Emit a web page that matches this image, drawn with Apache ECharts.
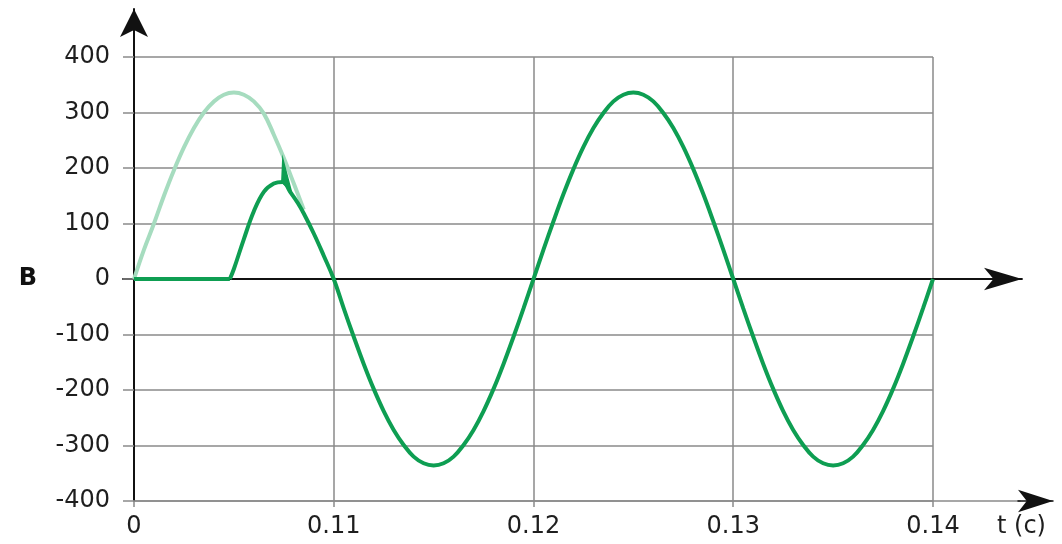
<!DOCTYPE html>
<html><head><meta charset="utf-8">
<script src="https://cdn.jsdelivr.net/npm/echarts@6/dist/echarts.min.js"></script>
<style>html,body{margin:0;padding:0;background:#fff}#c{width:1062px;height:544px}</style>
</head><body><div id="c"></div>
<script>
// ---- data ----
const xTicks = [0.10, 0.11, 0.12, 0.13, 0.14];
const xTickLabels = ['0', '0.11', '0.12', '0.13', '0.14'];
const yTickLabels = ['-400', '-300', '-200', '-100', '0', '100', '200', '300', '400'];

// light (undisturbed) curve
const lightT = [0.1000, 0.1005, 0.1010, 0.1015, 0.1020, 0.1025, 0.1030, 0.1035, 0.1040, 0.1045,
                0.1050, 0.1055, 0.1060, 0.1065, 0.1070, 0.1075, 0.1080, 0.1085];
const lightV = [0, 53, 100, 150, 196, 237, 272, 300, 320, 332,
                336, 332, 320, 298, 260, 218, 172, 125];

// dark curve
const darkT = [0.1000, 0.1048, 0.1050, 0.1055, 0.1060, 0.1065, 0.1070, 0.10745, 0.1078, 0.1082, 0.1085, 0.1090, 0.1095,
  0.1100, 0.1105, 0.1110, 0.1115, 0.1120, 0.1125, 0.1130, 0.1135, 0.1140, 0.1145,
  0.1150, 0.1155, 0.1160, 0.1165, 0.1170, 0.1175, 0.1180, 0.1185, 0.1190, 0.1195,
  0.1200, 0.1205, 0.1210, 0.1215, 0.1220, 0.1225, 0.1230, 0.1235, 0.1240, 0.1245,
  0.1250, 0.1255, 0.1260, 0.1265, 0.1270, 0.1275, 0.1280, 0.1285, 0.1290, 0.1295,
  0.1300, 0.1305, 0.1310, 0.1315, 0.1320, 0.1325, 0.1330, 0.1335, 0.1340, 0.1345,
  0.1350, 0.1355, 0.1360, 0.1365, 0.1370, 0.1375, 0.1380, 0.1385, 0.1390, 0.1395,
  0.1400];
const darkV = [0, 0, 18, 72, 122, 157, 172, 175, 158, 137, 118, 82, 42,
  0, -53, -104, -153, -198, -238, -272, -299, -320, -332,
  -336, -332, -320, -299, -272, -238, -198, -153, -104, -53,
  0, 53, 104, 153, 198, 238, 272, 299, 320, 332,
  336, 332, 320, 299, 272, 238, 198, 153, 104, 53,
  0, -53, -104, -153, -198, -238, -272, -299, -320, -332,
  -336, -332, -320, -299, -272, -238, -198, -153, -104, -53,
  0];

// small switching spike on the dark curve
const spikeT = [0.10740, 0.10745, 0.10792, 0.10770];
const spikeV = [174, 216, 152, 165];

// ---- chart ----
const zip = (a, b) => a.map((v, i) => [v, b[i]]);
const DARK = '#0e9e52', LIGHT = '#a6dcbf', GRID = '#8a8a8a';
const FONT = 'DejaVu Sans';
const FS = 24;

const chart = echarts.init(document.getElementById('c'), null, {renderer: 'canvas'});
const hiddenAxis = (gi, min, max) => ({type: 'value', gridIndex: gi, min, max, show: false});

chart.setOption({
  animation: false,
  backgroundColor: '#ffffff',
  title: {
    text: 't (c)', left: 997, top: 515, padding: 0,
    textStyle: {fontFamily: FONT, fontSize: FS, fontWeight: 'normal', color: '#1e1e1e'}
  },
  grid: [
    {left: 134, right: 129, top: 57, bottom: 43},   // main plot
    {left: 123, right: 40, top: 57, bottom: 43},    // zero line with arrow
    {left: 134, right: 42, top: 57, bottom: 43},    // bottom line extension
    {left: 1018, right: 9, top: 57, bottom: 43},    // bottom arrow head
    {left: 134, right: 129, top: 9, bottom: 43}     // vertical axis with arrow
  ],
  xAxis: [
    {
      type: 'value', gridIndex: 0, min: 0.10, max: 0.14, interval: 0.01,
      axisLine: {show: false, onZero: false},
      axisTick: {show: true, length: 6, lineStyle: {color: GRID, width: 1.5}},
      splitLine: {show: true, lineStyle: {color: GRID, width: 1.5}},
      axisLabel: {
        margin: 14, fontFamily: FONT, fontSize: FS, color: '#1e1e1e',
        formatter: v => { const i = xTicks.findIndex(t => Math.abs(t - v) < 1e-9); return i >= 0 ? xTickLabels[i] : ''; }
      }
    },
    {
      type: 'value', gridIndex: 1, min: 0, max: 1,
      axisLine: {show: true, onZero: true, lineStyle: {color: '#111', width: 1.8},
                 symbol: ['none', 'arrow'], symbolSize: [17, 38]},
      axisTick: {show: false}, axisLabel: {show: false}, splitLine: {show: false},
      name: 'B', nameLocation: 'start', nameGap: 86,
      nameTextStyle: {fontFamily: FONT, fontSize: FS, fontWeight: 'bold', color: '#111'}
    },
    {
      type: 'value', gridIndex: 2, min: 0, max: 1, position: 'bottom',
      axisLine: {show: true, onZero: false, lineStyle: {color: GRID, width: 1.5}},
      axisTick: {show: false}, axisLabel: {show: false}, splitLine: {show: false}
    },
    {
      type: 'value', gridIndex: 3, min: 0, max: 1, position: 'bottom',
      axisLine: {show: true, onZero: false, lineStyle: {color: '#111', width: 1.5},
                 symbol: ['none', 'arrow'], symbolSize: [17, 35]},
      axisTick: {show: false}, axisLabel: {show: false}, splitLine: {show: false}
    },
    hiddenAxis(4, 0, 1)
  ],
  yAxis: [
    {
      type: 'value', gridIndex: 0, min: -400, max: 400, interval: 100,
      axisLine: {show: false},
      axisTick: {show: true, length: 11, lineStyle: {color: GRID, width: 1.5}},
      splitLine: {show: true, lineStyle: {color: GRID, width: 1.5}},
      axisLabel: {
        margin: 24, fontFamily: FONT, fontSize: FS, color: '#1e1e1e',
        formatter: v => yTickLabels[Math.round((v + 400) / 100)] ?? ''
      }
    },
    hiddenAxis(1, -400, 400),
    hiddenAxis(2, -400, 400),
    hiddenAxis(3, -400, 400),
    {
      type: 'value', gridIndex: 4, min: 0, max: 1,
      axisLine: {show: true, onZero: true, lineStyle: {color: '#111', width: 2},
                 symbol: ['none', 'arrow'], symbolSize: [21, 28]},
      axisTick: {show: false}, axisLabel: {show: false}, splitLine: {show: false}
    }
  ],
  series: [
    {
      type: 'line', xAxisIndex: 0, yAxisIndex: 0, data: zip(lightT, lightV),
      smooth: 0.4, showSymbol: false, lineStyle: {color: LIGHT, width: 4}, z: 3
    },
    {
      type: 'line', xAxisIndex: 0, yAxisIndex: 0, data: zip(darkT, darkV).slice(0, 2),
      smooth: false, showSymbol: false, lineStyle: {color: DARK, width: 4}, z: 4
    },
    {
      type: 'line', xAxisIndex: 0, yAxisIndex: 0, data: zip(darkT, darkV).slice(1),
      smooth: 0.4, showSymbol: false, lineStyle: {color: DARK, width: 4}, z: 4
    },
    {
      type: 'custom', xAxisIndex: 0, yAxisIndex: 0, data: [[spikeT[0], spikeV[0]]], z: 5,
      renderItem: (params, api) => ({
        type: 'polygon',
        shape: {points: spikeT.map((t, i) => api.coord([t, spikeV[i]]))},
        style: {fill: DARK, stroke: DARK, lineWidth: 1.5}
      })
    }
  ]
});
</script>
</body></html>
